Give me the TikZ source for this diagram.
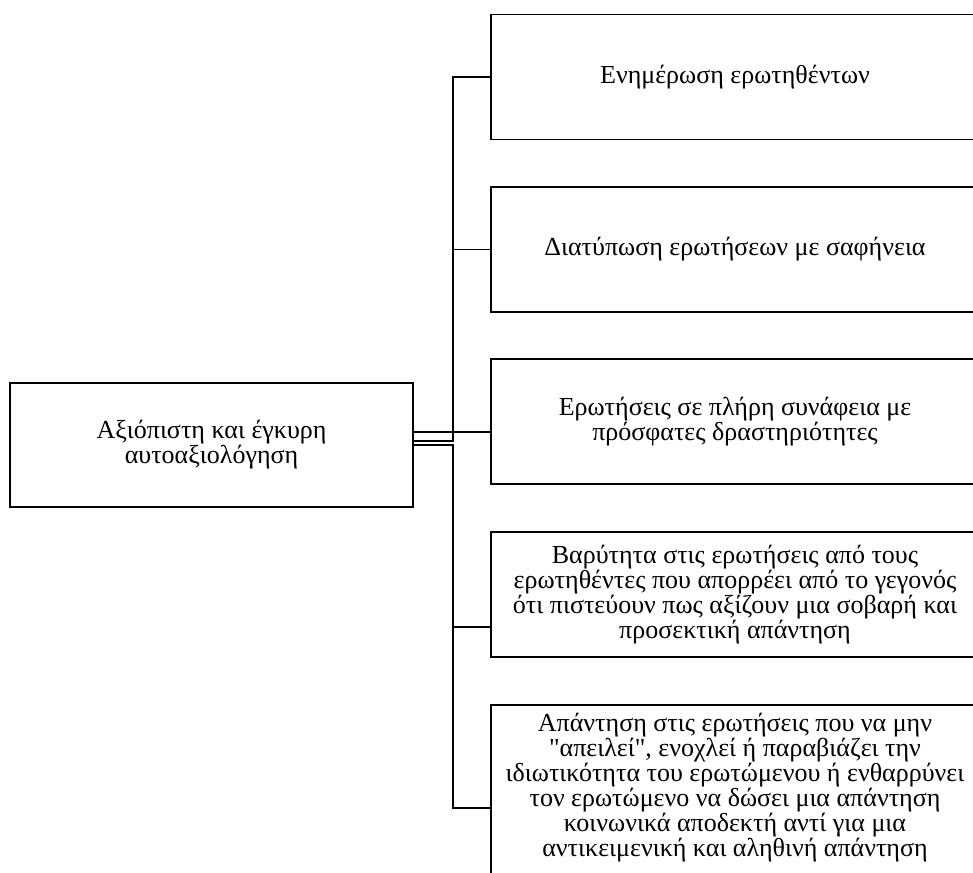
\documentclass[tikz,border=0pt]{standalone}
\usepackage{fontspec}
\setmainfont{Liberation Serif}[Ligatures=TeXOff]
\tikzset{
  box/.style={draw, line width=1.6pt, align=center, inner sep=0pt,
    font={\fontsize{26}{25}\selectfont\lineskiplimit -20pt\relax}},
  leaf/.style={box, minimum width=488pt, minimum height=125pt},
  link/.style={line width=1.6pt}
}
\begin{document}
\begin{tikzpicture}[x=1pt, y=-1pt]
  \useasboundingbox (0,0) rectangle (973,872);
  \clip (0,0) rectangle (973,872);

  % Root (left)
  \node[box, minimum width=403pt, minimum height=124pt] (root) at (211.5,445)
    {Αξιόπιστη και έγκυρη\\αυτοαξιολόγηση};

  % Leaves (right)
  \node[leaf] (c1) at (735,77) {Ενημέρωση ερωτηθέντων};
  \node[leaf] (c2) at (735,249.5) {Διατύπωση ερωτήσεων με σαφήνεια};
  \node[leaf] (c3) at (735,421.5)
    {Ερωτήσεις σε πλήρη συνάφεια με\\πρόσφατες δραστηριότητες};
  \node[leaf] (c4) at (735,594.5)
    {Βαρύτητα στις ερωτήσεις από τους\\ερωτηθέντες που απορρέει από το γεγονός\\ότι πιστεύουν πως αξίζουν μια σοβαρή και\\προσεκτική απάντηση};
  \node[leaf, minimum height=205pt] (c5) at (735,807.5)
    {Απάντηση στις ερωτήσεις που να μην\\"απειλεί", ενοχλεί ή παραβιάζει την\\ιδιωτικότητα του ερωτώμενου ή ενθαρρύνει\\τον ερωτώμενο να δώσει μια απάντηση\\κοινωνικά αποδεκτή αντί για μια\\αντικειμενική και αληθινή απάντηση\\[20pt]\mbox{}};

  % Connectors
  \coordinate (bus) at (453,445);
  \coordinate (e3) at ([yshift=-10.5pt]c3.west);
  \coordinate (e4) at ([yshift=-32.5pt]c4.west);
  \coordinate (e5) at ([yshift=-0.5pt]c5.west);
  \draw[link] (e3 -| root.east) -- (e3);
  \draw[link] ([yshift=4pt]root.east) -| (bus |- c1.west) -- (c1.west);
  \draw[link] (bus |- c2.west) -- (c2.west);
  \draw[link] (root.east) -| (bus |- e5) -- (e5);
  \draw[link] (bus |- e4) -- (e4);
\end{tikzpicture}
\end{document}
